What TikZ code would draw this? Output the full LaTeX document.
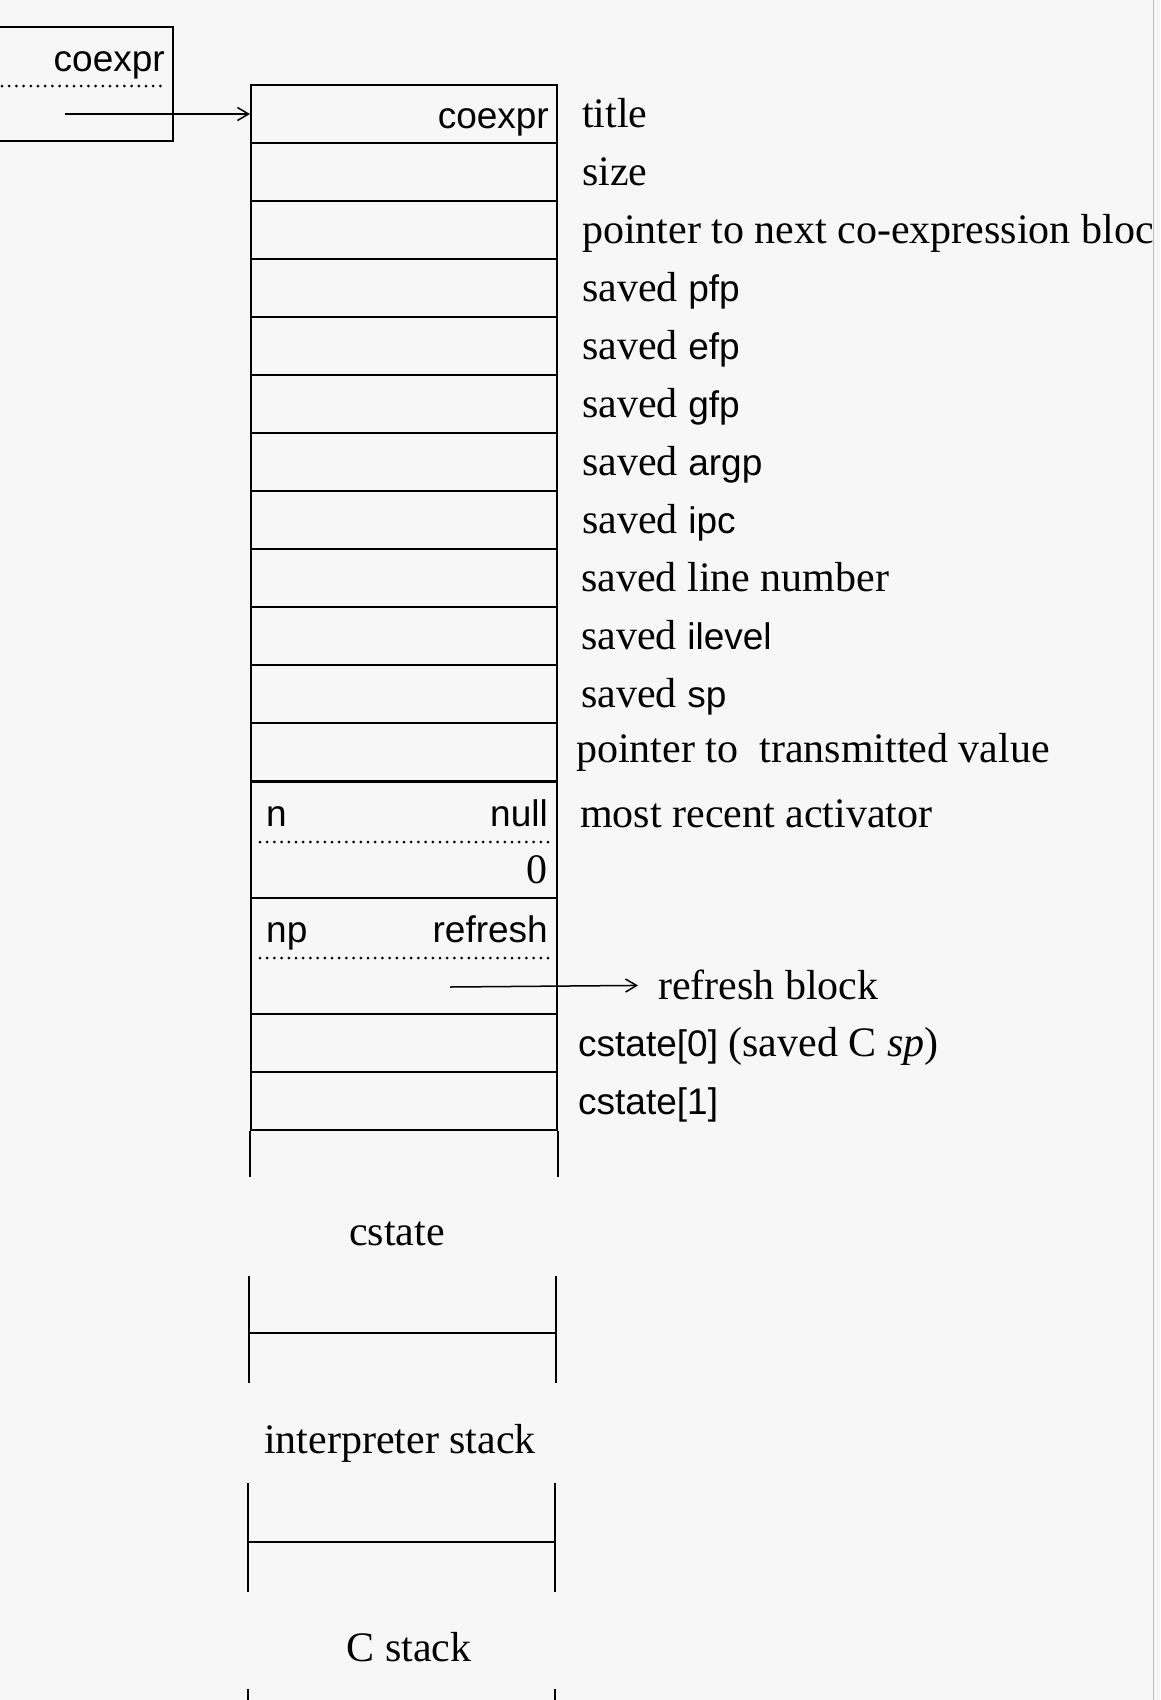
\documentclass[tikz,border=0pt]{standalone}
\usepackage{fontspec}
\setmainfont{Liberation Serif}
\setsansfont{Liberation Sans}
\usetikzlibrary{arrows.meta}
\begin{document}
\begin{tikzpicture}[x=1pt,y=-1pt,
  cell/.style={draw, line width=2.1pt, minimum width=306pt, minimum height=58pt, inner sep=0pt},
  edge/.style={line width=2.1pt},
  dots/.style={line width=3pt, dash pattern=on 0pt off 7.2pt, line cap=round},
  arr/.style={line width=1.5pt, -{Straight Barb[length=11pt,width=13pt,line width=1.5pt]}},
  lbl/.style={anchor=base west, inner sep=0pt, font=\fontsize{42}{48}\selectfont},
  clbl/.style={anchor=base, inner sep=0pt, font=\fontsize{42}{48}\selectfont},
  rs/.style={anchor=base east, inner sep=0pt, font=\sffamily\fontsize{37}{44}\selectfont},
  ls/.style={anchor=base west, inner sep=0pt, font=\sffamily\fontsize{37}{44}\selectfont},
  rr/.style={anchor=base east, inner sep=0pt, font=\fontsize{42}{48}\selectfont}
]
\newcommand{\sfx}[1]{{\sffamily\fontsize{37}{44}\selectfont #1}}
\fill[white!97!black] (0,0) rectangle (1160,1700);
\useasboundingbox (0,0) rectangle (1160,1700);
\draw[black!25, line width=1pt] (1153,0) -- (1153,1700);

% small box
\node[draw, line width=2.1pt, minimum width=193pt, minimum height=114pt, inner sep=0pt] (sb) at (76.5,84) {};
\draw[dots] (2,86) -- (166,86);
\node[rs] (sbt) at (165,71) {coexpr};
\coordinate (s0) at (65,114);

% main block cells
\foreach \i in {0,...,11} \node[cell] (c\i) at (404,{114+58*\i}) {};
\node[cell, minimum height=116pt] (c12) at (404,840) {};
\node[cell, minimum height=116pt] (c13) at (404,956) {};
\node[cell] (c14) at (404,1043) {};
\node[cell] (c15) at (404,1101) {};
\draw[edge] (c15.south west) -- ++(0,46);
\draw[edge] (c15.south east) -- ++(0,46);

\draw[arr] (s0) -- (c0.west);

\node[rs] (t0) at (549,128) {coexpr};
\node[ls] (tn) at (266,826) {n};
\node[rs] (tnull) at (548,826) {null};
\draw[dots] (260,842) -- (550,842);
\node[rr] (tz) at (548,883) {0};
\node[ls] (tnp) at (266,942) {np};
\node[rs] (tref) at (548,942) {refresh};
\draw[dots] (260,958) -- (550,958);

% labels
\node[lbl] (l0) at (582,127) {title};
\node[lbl] (l1) at (582,185) {size};
\node[lbl] (l2) at (582,243) {pointer to next co-expression bloc};
\node[lbl] (l3) at (582,301) {saved \sfx{pfp}};
\node[lbl] (l4) at (582,359) {saved \sfx{efp}};
\node[lbl] (l5) at (582,417) {saved \sfx{gfp}};
\node[lbl] (l6) at (582,475) {saved \sfx{argp}};
\node[lbl] (l7) at (582,533) {saved \sfx{ipc}};
\node[lbl] (l8) at (581,591) {saved line number};
\node[lbl] (l9) at (581,649) {saved \sfx{ilevel}};
\node[lbl] (l10) at (581,707) {saved \sfx{sp}};
\node[lbl] (l11) at (576,762) {pointer to\ \ transmitted value};
\node[lbl] (l12) at (580,827) {most recent activator};
\node[lbl] (rb) at (658,999) {refresh block};
\node[lbl] (l14) at (578,1056) {\sfx{cstate[0]} (saved C \textit{sp})};
\node[lbl] (l15) at (578,1114) {\sfx{cstate[1]}};
\coordinate (r0) at (450,987);
\draw[arr] (r0) -- ([xshift=-20pt,yshift=-1pt]rb.west);

% lower segments
\node[clbl] (cs) at (397,1245) {cstate};
\coordinate (a1) at (249,1276);
\coordinate (a2) at (556,1276);
\draw[edge] (a1) -- ++(0,107);
\draw[edge] (a2) -- ++(0,107);
\draw[edge] (249,1333) -- (556,1333);
\node[clbl] (is) at (400,1453) {interpreter stack};
\draw[edge] (248,1483) -- (248,1592);
\draw[edge] (555,1483) -- (555,1592);
\draw[edge] (248,1542) -- (555,1542);
\node[clbl] (cst) at (409,1661) {C stack};
\draw[edge] (248,1689) -- (248,1700);
\draw[edge] (555,1689) -- (555,1700);
\end{tikzpicture}
\end{document}
